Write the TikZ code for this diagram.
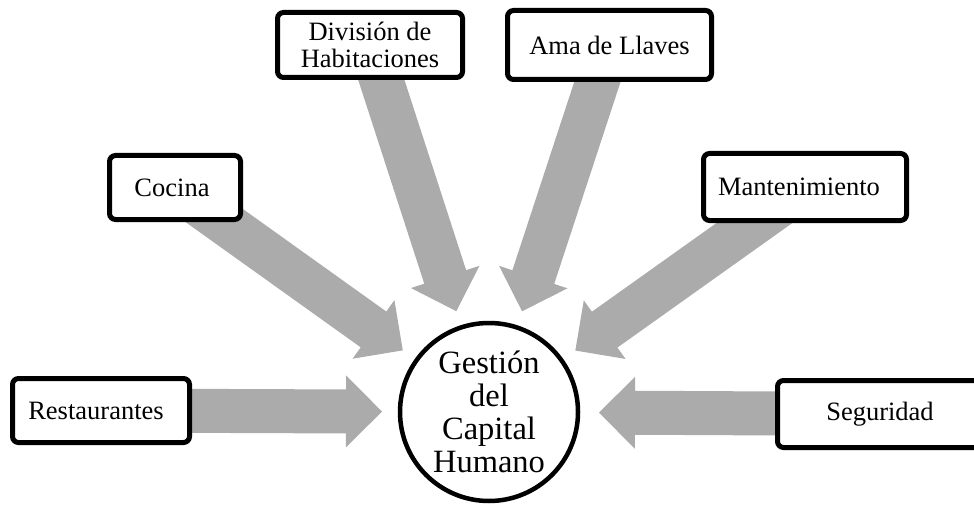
\documentclass[tikz,border=0pt]{standalone}
\usepackage{fontspec}
\setmainfont{Liberation Serif}
\usetikzlibrary{calc,backgrounds}
\definecolor{arrowfill}{RGB}{171,171,171}
\tikzset{
  deptbox/.style={draw=black, line width=5pt, rounded corners=6pt, fill=white,
    inner sep=0pt, align=center, font=\fontsize{26.5}{27.5}\selectfont},
  hub/.style={circle, draw=black, line width=4.5pt, fill=white, inner sep=0pt,
    minimum size=178pt, align=center, font=\fontsize{32.5}{33}\selectfont},
  flow/.style={fill=arrowfill}
}
% block arrow from node #1 toward node #2, tip at distance #3 from #2's centre
\newcommand\blockarrow[3]{%
  \coordinate (S) at (#1.center);
  \coordinate (T) at ($(#2.center)!#3!(#1.center)$);
  \coordinate (B) at ($(T)!36pt!(S)$);
  \fill[flow] ($(S)!22pt!90:(T)$) -- ($(B)!22pt!90:(T)$) -- ($(B)!36pt!90:(T)$)
    -- (T) -- ($(B)!36pt!-90:(T)$) -- ($(B)!22pt!-90:(T)$)
    -- ($(S)!22pt!-90:(T)$) -- cycle;
}
\begin{document}
\begin{tikzpicture}[x=1pt,y=-1pt]
\useasboundingbox (0,0) rectangle (974,505);

\node[hub] (hub) at (489,412) {Gestión\\del\\Capital\\Humano};

\node[deptbox, minimum width=177pt, minimum height=64pt] (rest) at (101,410.5) {\hspace*{-10pt}Restaurantes};
\node[deptbox, minimum width=131pt, minimum height=64pt] (coc) at (175,187.5) {\hspace*{-6pt}Cocina};
\node[deptbox, minimum width=185pt, minimum height=65pt] (div) at (370,45) {División de\\Habitaciones};
\node[deptbox, minimum width=204pt, minimum height=69pt] (ama) at (609.5,45) {Ama de Llaves};
\node[deptbox, minimum width=203pt, minimum height=67pt] (mant) at (805,187) {\hspace*{-12pt}Mantenimiento};
\node[deptbox, minimum width=205pt, minimum height=67pt] (seg) at (880,414) {Seguridad};

\begin{scope}[on background layer]
  \blockarrow{rest}{hub}{107pt}
  \blockarrow{coc}{hub}{106pt}
  \blockarrow{div}{hub}{106pt}
  \blockarrow{ama}{hub}{106pt}
  \blockarrow{mant}{hub}{106pt}
  \blockarrow{seg}{hub}{110pt}
\end{scope}
\end{tikzpicture}
\end{document}
